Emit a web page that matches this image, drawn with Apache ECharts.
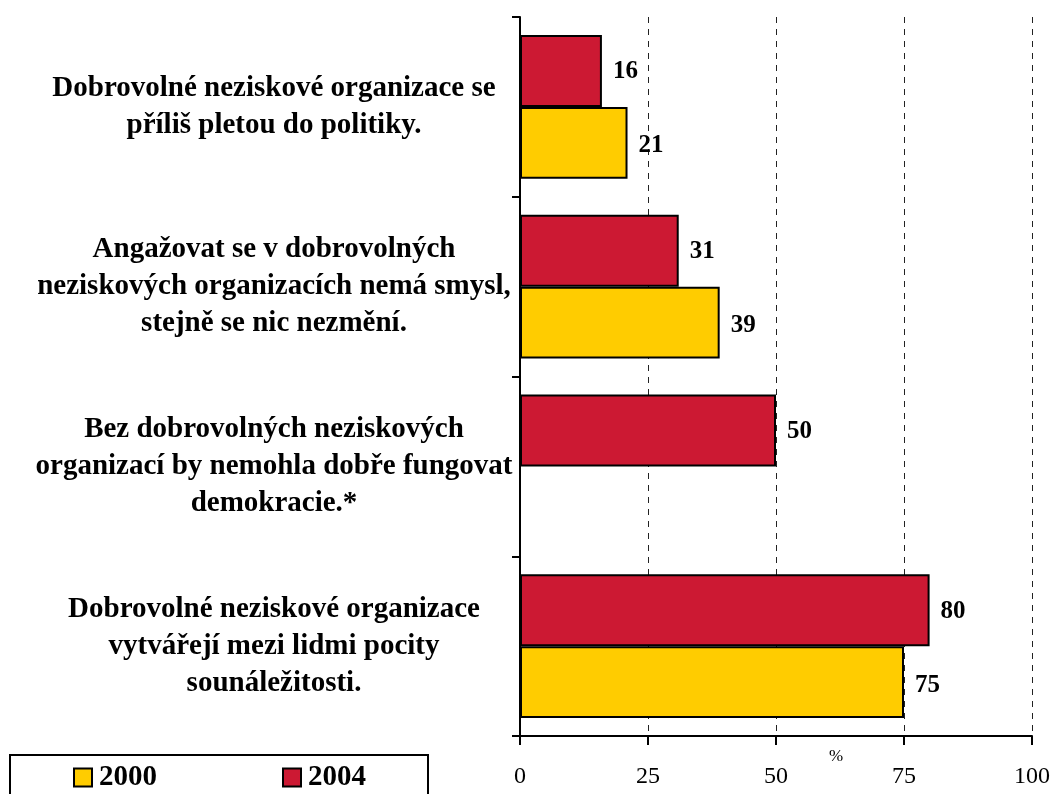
<!DOCTYPE html>
<html>
<head>
<meta charset="utf-8">
<script src="https://cdn.jsdelivr.net/npm/echarts@6/dist/echarts.min.js"></script>
<style>html,body{margin:0;padding:0;background:#fff}#c{width:1054px;height:794px}</style>
</head>
<body>
<div id="c"></div>
<script>
const categories = [
  'Dobrovolné neziskové organizace se\npříliš pletou do politiky.',
  'Angažovat se v dobrovolných\nneziskových organizacích nemá smysl,\nstejně se nic nezmění.',
  'Bez dobrovolných neziskových\norganizací by nemohla dobře fungovat\ndemokracie.*',
  'Dobrovolné neziskové organizace\nvytvářejí mezi lidmi pocity\nsounáležitosti.'
];
const values2000 = [21, 39, null, 75];
const values2004 = [16, 31, 50, 80];
const xTicks = [0, 25, 50, 75, 100];

const serif = '"Liberation Serif", "Times New Roman", serif';
const chart = echarts.init(document.getElementById('c'));
function labelStyle(dy) {
  return {
    show: true, position: 'right', distance: 11,
    fontFamily: serif, fontWeight: 'bold', fontSize: 25, color: '#000', offset: [0, dy]
  };
}
chart.setOption({
  animation: false,
  grid: { left: 520, right: 22, top: 17, bottom: 58, containLabel: false, outerBoundsMode: 'none' },
  legend: {
    data: ['2000', '2004'],
    left: 10, top: 755,
    orient: 'horizontal',
    borderColor: '#000', borderWidth: 2,
    padding: [8, 62, 20, 63],
    itemGap: 125, itemWidth: 18, itemHeight: 18,
    icon: 'rect',
    textStyle: { fontFamily: serif, fontWeight: 'bold', fontSize: 29, color: '#000', padding: [0, 0, 0, 2] }
  },
  xAxis: {
    type: 'value', min: 0, max: 100, interval: 25,
    name: '%', nameLocation: 'middle', nameGap: 12, nameMoveOverlap: false,
    nameTextStyle: { fontFamily: serif, fontSize: 17, color: '#000', padding: [0, 0, 0, 120] },
    axisLine: { show: true, lineStyle: { color: '#000', width: 2 } },
    axisTick: { show: true, length: 9, lineStyle: { color: '#000', width: 2 } },
    axisLabel: {
      margin: 29, fontFamily: serif, fontSize: 24, color: '#000',
      formatter: v => xTicks.includes(v) ? String(v) : ''
    },
    splitLine: { show: true, lineStyle: { color: '#222', type: [6, 6], width: 1 } }
  },
  yAxis: {
    type: 'category', inverse: true, data: categories,
    axisLine: { show: true, lineStyle: { color: '#000', width: 2 } },
    axisTick: { show: true, length: 8, lineStyle: { color: '#000', width: 2 } },
    axisLabel: {
      align: 'center', margin: 246, fontFamily: serif, fontWeight: 'bold',
      fontSize: 29, lineHeight: 37, color: '#000', padding: [12, 0, 0, 0]
    }
  },
  series: [
    {
      name: '2004', type: 'bar', data: values2004,
      barCategoryGap: '20%', barGap: '0%',
      itemStyle: { color: '#CC1933', borderColor: '#000', borderWidth: 2 },
      label: labelStyle(1)
    },
    {
      name: '2000', type: 'bar', data: values2000,
      barCategoryGap: '20%', barGap: '0%',
      itemStyle: { color: '#FFCC00', borderColor: '#000', borderWidth: 2 },
      label: labelStyle(3)
    }
  ]
});
</script>
</body>
</html>
